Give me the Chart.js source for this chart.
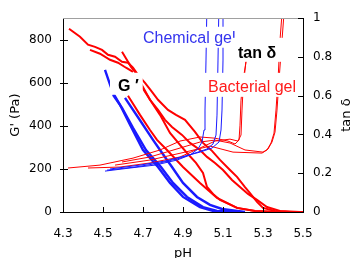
<!DOCTYPE html>
<html><head><meta charset="utf-8">
<script src="https://cdn.jsdelivr.net/npm/chart.js@4/dist/chart.umd.min.js"></script>
<style>html,body{margin:0;padding:0;background:#fff;}</style>
</head><body>
<canvas id="c" width="353" height="258"></canvas>
<script>
// ---- axis ticks ----
const xTickValues = [4.3, 4.5, 4.7, 4.9, 5.1, 5.3, 5.5];
const gTickValues = [0, 200, 400, 600, 800];
const tanTickValues = [0, 0.2, 0.4, 0.6, 0.8, 1];

// ---- G' (Pa), chemical gel (blue) ----
const pH_gChem1 = [4.51, 4.53, 4.55, 4.585, 4.635, 4.70, 4.775, 4.835, 4.90, 4.985, 5.05, 5.16];
const g_gChem1  = [660, 605, 553, 498, 405, 288, 209, 135, 70, 23, 5, 0];
const pH_gChem2 = [4.55, 4.595, 4.65, 4.715, 4.79, 4.85, 4.92, 5.00, 5.07, 5.185];
const g_gChem2  = [544, 484, 391, 288, 209, 135, 70, 23, 5, 0];
const pH_gChem3 = [4.61, 4.68, 4.75, 4.785, 4.845, 4.90, 4.97, 5.035, 5.095, 5.21];
const g_gChem3  = [530, 433, 335, 288, 209, 135, 70, 33, 14, 0];

// ---- G' (Pa), bacterial gel (red) ----
const pH_gBac1 = [4.33, 4.385, 4.425, 4.46, 4.495, 4.525, 4.56, 4.595, 4.625, 4.65, 4.675, 4.71, 4.745, 4.775, 4.825, 4.865, 4.91, 4.96, 5.00, 5.045, 5.085, 5.135, 5.17, 5.21, 5.235, 5.27, 5.30, 5.36, 5.435, 5.50];
const g_gBac1  = [851, 814, 777, 767, 753, 730, 721, 698, 693, 670, 637, 600, 558, 521, 474, 451, 428, 372, 321, 284, 242, 195, 163, 116, 88, 47, 19, 5, 0, 0];
const pH_gBac1b = [4.435, 4.485, 4.535, 4.575, 4.615, 4.65];
const g_gBac1b  = [753, 735, 707, 693, 670, 651];
const pH_gBac2 = [4.595, 4.61, 4.625, 4.64, 4.66, 4.685, 4.735, 4.775, 4.81, 4.845, 4.895, 4.935, 4.985, 5.02, 5.06, 5.10, 5.145, 5.185, 5.225, 5.27, 5.32, 5.385, 5.485];
const g_gBac2  = [744, 721, 698, 674, 651, 605, 521, 474, 428, 395, 358, 321, 288, 256, 228, 195, 149, 116, 84, 56, 23, 5, 0];
const pH_gBac3 = [4.625, 4.685, 4.735, 4.77, 4.82, 4.90, 4.985, 5.07, 5.17, 5.26, 5.385];
const g_gBac3  = [540, 451, 381, 335, 288, 209, 135, 65, 19, 5, 0];
const pH_gBac4 = [4.685, 4.735, 4.785, 4.835, 4.885, 4.92, 4.965, 5.00, 5.01, 5.02, 5.05, 5.085, 5.17, 5.26, 5.36];
const g_gBac4  = [595, 521, 451, 367, 312, 274, 228, 181, 149, 116, 84, 56, 19, 5, 0];

// ---- tan delta, chemical gel (blue) ----
const pH_tChem1 = [4.51, 4.635, 4.76, 4.87, 4.935, 4.975, 4.995, 5.005, 5.01, 5.015, 5.02];
const t_tChem1  = [0.211, 0.227, 0.242, 0.268, 0.294, 0.325, 0.361, 0.423, 0.526, 0.784, 1.093];
const pH_tChem2 = [4.52, 4.66, 4.785, 4.885, 4.96, 5.02, 5.05, 5.065, 5.07, 5.075, 5.08];
const t_tChem2  = [0.216, 0.232, 0.253, 0.278, 0.304, 0.325, 0.351, 0.397, 0.50, 0.784, 1.093];
const pH_tChem3 = [4.535, 4.685, 4.81, 4.91, 4.985, 5.045, 5.08, 5.09, 5.095, 5.10, 5.10];
const t_tChem3  = [0.222, 0.242, 0.263, 0.289, 0.309, 0.330, 0.361, 0.423, 0.526, 0.784, 1.093];

// ---- tan delta, bacterial gel (red) ----
const pH_tBac1 = [4.325, 4.485, 4.65, 4.785, 4.885, 4.985, 5.06, 5.125, 5.16, 5.18, 5.185, 5.19, 5.20, 5.215, 5.225];
const t_tBac1  = [0.227, 0.242, 0.278, 0.320, 0.366, 0.387, 0.381, 0.366, 0.351, 0.371, 0.448, 0.577, 0.680, 0.773, 0.861];
const pH_tBac2 = [4.425, 4.585, 4.735, 4.885, 4.985, 5.06, 5.135, 5.175, 5.19, 5.195, 5.20, 5.21, 5.22];
const t_tBac2  = [0.227, 0.232, 0.253, 0.284, 0.330, 0.366, 0.376, 0.366, 0.397, 0.526, 0.629, 0.732, 0.835];
const pH_tBac3 = [4.595, 4.735, 4.885, 4.985, 5.06, 5.135, 5.21, 5.30, 5.325, 5.345, 5.36, 5.37, 5.38, 5.395, 5.41];
const t_tBac3  = [0.258, 0.284, 0.330, 0.361, 0.371, 0.356, 0.320, 0.309, 0.325, 0.361, 0.412, 0.526, 0.680, 0.887, 1.093];
const pH_tBac4 = [4.56, 4.735, 4.91, 5.035, 5.15, 5.295, 5.32, 5.34, 5.355, 5.365, 5.375, 5.385, 5.40];
const t_tBac4  = [0.242, 0.268, 0.309, 0.340, 0.309, 0.304, 0.320, 0.356, 0.407, 0.526, 0.680, 0.887, 1.093];

// ---- annotation texts (anchored in data units: pH, G') ----
const noteTexts = ['Chemical gel', 'tan δ', 'Bacterial gel', 'G ′'];
const notePH    = [4.70, 5.175, 5.025, 4.575];
const noteG     = [786, 716, 558, 563];

const BLUE = '#1a1aff', RED = '#ff0000';
function pts(xs, ys){ return xs.map((x,i)=>({x:x, y:ys[i]})); }
function ds(xs, ys, color, w, axis){
  return {data: pts(xs, ys), borderColor: color, borderWidth: w, pointRadius: 0, tension: 0,
          fill: false, yAxisID: axis};
}

const datasets = [
  ds(pH_tChem1, t_tChem1, BLUE, 1, 'y2'),
  ds(pH_tChem2, t_tChem2, BLUE, 1, 'y2'),
  ds(pH_tChem3, t_tChem3, BLUE, 1, 'y2'),
  ds(pH_tBac1, t_tBac1, RED, 1, 'y2'),
  ds(pH_tBac2, t_tBac2, RED, 1, 'y2'),
  ds(pH_tBac3, t_tBac3, RED, 1, 'y2'),
  ds(pH_tBac4, t_tBac4, RED, 1, 'y2'),
  ds(pH_gChem1, g_gChem1, BLUE, 2.4, 'y'),
  ds(pH_gChem2, g_gChem2, BLUE, 2.4, 'y'),
  ds(pH_gChem3, g_gChem3, BLUE, 2.4, 'y'),
  ds(pH_gBac1, g_gBac1, RED, 2, 'y'),
  ds(pH_gBac1b, g_gBac1b, RED, 2, 'y'),
  ds(pH_gBac2, g_gBac2, RED, 2, 'y'),
  ds(pH_gBac3, g_gBac3, RED, 2, 'y'),
  ds(pH_gBac4, g_gBac4, RED, 2, 'y'),
];

const noteStyle = [
  {font:'16px "Liberation Sans"', color:'#3434ee', box:[4, 2, 16, 5]},
  {font:'bold 16px "Liberation Sans"', color:'#000', box:[6, 10, 20, 4]},
  {font:'16px "Liberation Sans"', color:'#ff1a1a', box:[5, 2, 19, 5]},
  {font:'bold 16px "Liberation Sans"', color:'#000', box:[8, 4, 18, 4]},
];

const deco = {
  id: 'deco',
  afterDatasetsDraw(chart){
    const ctx = chart.ctx;
    const {left, right, top, bottom} = chart.chartArea;
    const sx = chart.scales.x, sy = chart.scales.y, sy2 = chart.scales.y2;
    ctx.save();
    // top frame line
    ctx.strokeStyle = '#a0a0a0'; ctx.lineWidth = 1;
    ctx.beginPath(); ctx.moveTo(left, Math.round(top)+0.5); ctx.lineTo(right, Math.round(top)+0.5); ctx.stroke();
    // inner tick marks
    ctx.strokeStyle = '#000';
    ctx.beginPath();
    xTickValues.forEach(v=>{ const p = Math.round(sx.getPixelForValue(v))+0.5; ctx.moveTo(p, bottom); ctx.lineTo(p, bottom-5); });
    gTickValues.forEach(v=>{ const p = Math.round(sy.getPixelForValue(v))+0.5; ctx.moveTo(left-3, p); ctx.lineTo(left+5, p); });
    tanTickValues.forEach(v=>{ const p = Math.round(sy2.getPixelForValue(v))+0.5; ctx.moveTo(right, p); ctx.lineTo(right-5, p); });
    ctx.stroke();
    // annotations with white boxes
    noteTexts.forEach((t,i)=>{
      const st = noteStyle[i];
      const x = sx.getPixelForValue(notePH[i]);
      const y = sy.getPixelForValue(noteG[i]);
      ctx.font = st.font;
      const w = ctx.measureText(t).width;
      ctx.fillStyle = '#fff';
      ctx.fillRect(x - st.box[0], y - st.box[2], w + st.box[0] + st.box[1], st.box[2] + st.box[3]);
      ctx.fillStyle = st.color;
      ctx.textAlign = 'left'; ctx.textBaseline = 'alphabetic';
      ctx.fillText(t, x, y);
    });
    // right axis title (reads bottom to top)
    ctx.save();
    ctx.translate(right + 44, (top + bottom)/2);
    ctx.rotate(-Math.PI/2);
    ctx.font = '13px "DejaVu Sans"'; ctx.fillStyle = '#000';
    ctx.textAlign = 'center'; ctx.textBaseline = 'middle';
    ctx.fillText('tan δ', 0, 0);
    ctx.restore();
    ctx.restore();
  }
};

const tickFont = {family: '"DejaVu Sans"', size: 12};
const titleFont = {family: '"DejaVu Sans"', size: 13, lineHeight: 1.0};

new Chart(document.getElementById('c'), {
  type: 'line',
  data: {datasets},
  options: {
    responsive: false, animation: false, devicePixelRatio: 1,
    layout: {padding: {top: 18, left: 0, right: 0, bottom: 0}},
    plugins: {legend: {display: false}, tooltip: {enabled: false}},
    scales: {
      x: {type: 'linear', position: 'bottom', min: 4.3, max: 5.5,
          ticks: {stepSize: 0.2, font: tickFont, color: '#000', padding: 15, maxRotation: 0,
                  callback: v => v.toFixed(1)},
          afterBuildTicks: s => { s.ticks = xTickValues.map(v => ({value: v})); },
          grid: {display: false, drawTicks: false},
          border: {display: true, color: '#000', width: 1},
          title: {display: true, text: 'pH', font: titleFont, color: '#000', padding: {top: 0, bottom: -2}},
          afterFit: s => { s.height = 46; }},
      y: {type: 'linear', position: 'left', min: 0, max: 900,
          ticks: {stepSize: 200, includeBounds: false, font: tickFont, color: '#000', padding: 11},
          afterBuildTicks: s => { s.ticks = gTickValues.map(v => ({value: v})); },
          grid: {display: false, drawTicks: false},
          border: {display: true, color: '#000', width: 1},
          title: {display: true, text: "G' (Pa)", font: titleFont, color: '#000', padding: {top: 9, bottom: 0}},
          afterFit: s => { s.width = 63; }},
      y2: {type: 'linear', position: 'right', min: 0, max: 1,
          ticks: {stepSize: 0.2, font: tickFont, color: '#000', padding: 10,
                  callback: v => String(Math.round(v*10)/10)},
          afterBuildTicks: s => { s.ticks = tanTickValues.map(v => ({value: v})); },
          grid: {display: false, drawTicks: false},
          border: {display: true, color: '#000', width: 1},
          afterFit: s => { s.width = 50; }}
    }
  },
  plugins: [deco]
});
</script>
</body></html>
